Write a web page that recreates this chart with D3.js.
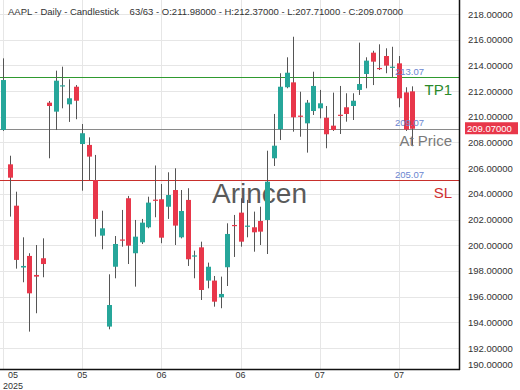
<!DOCTYPE html>
<html><head><meta charset="utf-8">
<script src="https://cdn.jsdelivr.net/npm/d3@7"></script>
<style>body{margin:0;background:#fff;}svg{display:block;font-family:"Liberation Sans",Arial,sans-serif;}</style>
</head><body>
<svg id="c" width="520" height="390"></svg>
<script>
const opens  = [208.97,206.30,203.08,198.27,199.17,197.69,198.99,211.10,210.40,212.40,210.97,212.34,207.88,207.81,205.08,200.75,193.67,198.33,200.45,203.66,199.38,200.23,201.40,203.55,203.58,203.00,204.30,200.62,203.53,199.13,199.84,197.25,197.25,195.95,198.29,201.58,202.54,201.48,201.40,201.89,201.97,206.77,209.03,212.30,212.68,210.09,209.49,210.45,210.66,209.93,209.31,210.16,210.74,210.84,212.09,213.33,214.99,213.80,214.73,213.85,214.16,211.90,211.98];
const highs  = [214.55,206.97,204.17,200.62,199.38,200.02,200.54,211.23,213.59,213.90,212.92,212.47,209.44,208.40,207.03,202.69,197.74,200.72,202.75,203.84,201.97,202.05,203.78,206.21,204.77,205.68,205.99,204.30,204.44,199.58,200.28,198.65,197.61,197.56,201.71,202.36,203.66,203.53,202.62,203.00,207.36,210.22,213.39,214.63,216.23,211.95,211.31,213.51,212.09,210.84,211.88,212.40,211.83,211.83,215.77,214.63,215.14,215.64,215.33,215.45,214.73,212.30,212.37];
const lows   = [208.90,202.23,198.18,197.12,193.28,194.71,197.51,206.77,208.97,210.66,209.60,209.81,204.25,205.08,200.67,199.69,193.46,197.43,199.89,198.54,196.78,200.10,201.32,202.18,200.16,202.05,200.02,200.54,198.39,197.43,195.74,196.65,195.22,195.10,196.83,199.09,199.89,200.62,199.50,200.02,199.32,206.17,208.19,212.22,208.84,208.45,207.21,210.14,209.88,207.55,208.90,208.66,209.62,209.75,211.70,212.22,212.47,213.64,213.39,213.10,210.74,208.90,207.71];
const closes = [212.86,205.26,198.86,198.39,196.26,197.56,198.54,210.84,212.81,212.45,211.44,211.25,208.72,206.90,202.05,201.32,195.35,200.10,200.37,199.97,200.67,201.76,203.32,203.50,200.59,203.91,201.53,202.67,198.91,199.21,196.52,198.33,195.61,196.21,200.88,201.50,200.28,201.53,201.01,201.06,204.95,207.75,212.34,213.43,209.96,210.00,211.10,212.40,211.05,208.64,208.97,210.12,210.22,211.25,212.55,214.37,214.29,213.75,213.98,213.90,211.44,209.00,209.07];

const yTicks = [190,192,194,196,198,200,202,204,206,208,210,212,214,216,218];
const xTickIdx = [0,12,24,36,48,60];
const xTickLabels = ["05","05","06","06","07","07"];
const levels = [213.07,209.07,205.07];
const levelNames = ["TP1","At Price","SL"];
const title = "AAPL - Daily - Candlestick    63/63 - O:211.98000 - H:212.37000 - L:207.71000 - C:209.07000";
const lastPrice = 209.07;

const W = 459, H = 369;
const svg = d3.select("#c");
const x = d3.scaleLinear().domain([-0.4545, 69.09]).range([0, W]);
const y = d3.scaleLinear().domain([190.37, 219.09]).range([H, 0]);

const data = opens.map((o,i)=>({i,o,h:highs[i],l:lows[i],c:closes[i]}));

// grid
const g = svg.append("g");
g.selectAll(".hg").data(yTicks.filter(v=>y(v)<H)).enter().append("line")
  .attr("x1",0).attr("x2",W).attr("y1",d=>Math.round(y(d))+0.5).attr("y2",d=>Math.round(y(d))+0.5)
  .attr("stroke","#e6e6e6").attr("stroke-width",1);
g.selectAll(".vg").data(xTickIdx).enter().append("line")
  .attr("y1",0).attr("y2",H).attr("x1",d=>Math.round(x(d))+0.5).attr("x2",d=>Math.round(x(d))+0.5)
  .attr("stroke","#e6e6e6").attr("stroke-width",1);

// watermark
svg.append("text").attr("x",259.5).attr("y",203).attr("text-anchor","middle")
  .attr("font-size",28).attr("fill","#5a5a5a").text("Arincen");

// level lines
const lvlColors = ["#2f9a2f","#8a8a8a","#c8302c"];
const lvlText = ["#2a8a2a","#7a7a7a","#d03030"];
levels.forEach((v,k)=>{
  const yy = Math.round(y(v))+0.5;
  svg.append("line").attr("x1",0).attr("x2",W).attr("y1",yy).attr("y2",yy)
    .attr("stroke",lvlColors[k]).attr("stroke-width",1);
});

// candles
const up = "#26a69a", dn = "#e8374a";
const cg = svg.append("g");
cg.selectAll(".wick").data(data).enter().append("line")
  .attr("x1",d=>Math.round(x(d.i))+0.5).attr("x2",d=>Math.round(x(d.i))+0.5)
  .attr("y1",d=>y(d.h)).attr("y2",d=>y(d.l))
  .attr("stroke","#555").attr("stroke-width",1);
cg.selectAll(".body").data(data).enter().append("rect")
  .attr("x",d=>Math.round(x(d.i))-2)
  .attr("width",5)
  .attr("y",d=>y(Math.max(d.o,d.c)))
  .attr("height",d=>Math.max(1.2,Math.abs(y(d.o)-y(d.c))))
  .attr("fill",d=>d.c>=d.o?up:dn);

// level labels
levels.forEach((v,k)=>{
  const yy = y(v);
  svg.append("text").attr("x",395).attr("y",yy-2.5).attr("font-size",9.5)
    .attr("fill","#6a86d0").text(v.toFixed(2));
  svg.append("text").attr("x",452).attr("y",yy+17.5).attr("text-anchor","end")
    .attr("font-size",15).attr("fill",lvlText[k]).text(levelNames[k]);
});

// axes lines
svg.append("line").attr("x1",W+0.5).attr("x2",W+0.5).attr("y1",0).attr("y2",H+1).attr("stroke","#111").attr("stroke-width",1.5);
svg.append("line").attr("x1",0).attr("x2",W+1).attr("y1",H+0.5).attr("y2",H+0.5).attr("stroke","#111").attr("stroke-width",1.5);

// y labels
svg.selectAll(".yl").data(yTicks).enter().append("text")
  .attr("x",468).attr("y",d=>Math.min(y(d),364)+3.5).attr("font-size",9.5).attr("fill","#333")
  .text(d=>d.toFixed(5));

// price tag
const py = y(lastPrice);
svg.append("rect").attr("x",465).attr("y",py-6.5).attr("width",53).attr("height",12).attr("fill","#e8374a");
svg.append("text").attr("x",467).attr("y",py+3.5).attr("font-size",9.5).attr("fill","#fff").text(lastPrice.toFixed(5));

// x labels
svg.selectAll(".xl").data(xTickIdx).enter().append("text")
  .attr("x",(d,k)=>x(d)+(k===0?10:0)).attr("y",377.5).attr("text-anchor","middle")
  .attr("font-size",9).attr("fill","#333").text((d,k)=>xTickLabels[k]);
svg.append("text").attr("x",x(0)+10).attr("y",389).attr("text-anchor","middle")
  .attr("font-size",9).attr("fill","#333").text("2025");

// title
svg.append("text").attr("x",8).attr("y",15).attr("font-size",9.5).attr("fill","#333")
  .attr("xml:space","preserve").style("white-space","pre").text(title);
</script>
</body></html>
